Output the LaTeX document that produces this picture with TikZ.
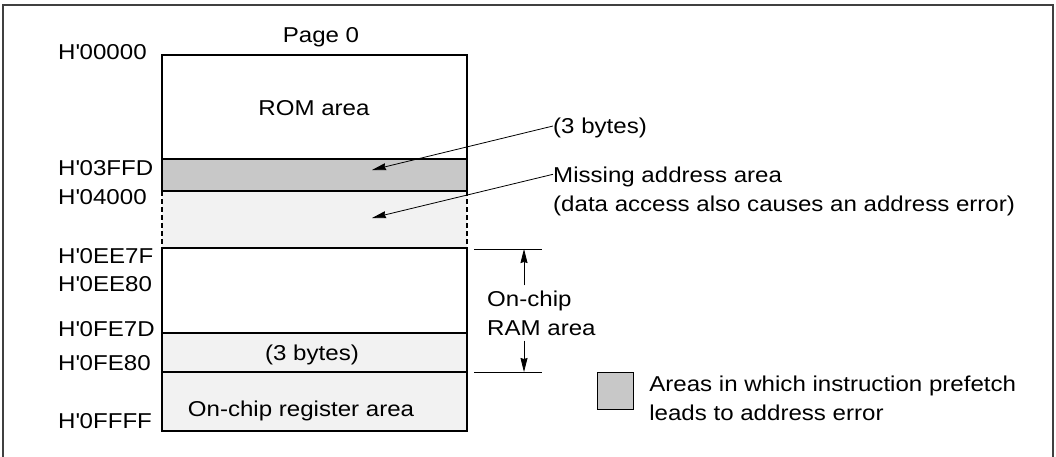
\documentclass[tikz,border=0pt]{standalone}
\usepackage{fontspec}
\setmainfont{Liberation Sans}[FakeStretch=1.12]
\usetikzlibrary{arrows.meta,positioning}
\definecolor{prefetchgray}{RGB}{200,200,200}
\definecolor{areafill}{RGB}{242,242,242}
\tikzset{
  lbl/.style={inner sep=0pt,text height=15.5pt,text depth=0pt},
  note/.style={inner sep=0pt,align=left},
  memline/.style={line width=1.3pt},
  lead/.style={->,line width=0.8pt},
}
\begin{document}
\begin{tikzpicture}[x=1pt,y=-1pt,>={Stealth[length=14pt,width=7pt,inset=1pt]},font=\fontsize{21.5}{29}\selectfont]
  \useasboundingbox (0,0) rectangle (1056,456);
  \draw[line width=1.5pt,black!75] (3,5) rectangle (1053,470);
  % memory map
  \fill[prefetchgray] (162,159) rectangle (467,191);
  \fill[areafill] (162,191) rectangle (467,248);
  \fill[areafill] (162,333) rectangle (467,431);
  \draw[memline] (162,191)--(162,55)--(467,55)--(467,191);
  \draw[memline] (162,248) rectangle (467,431);
  \foreach \y in {159,191,333,372}
    \draw[memline] (162,\y)--(467,\y);
  \draw[memline,dash pattern=on 5pt off 3pt] (162,191)--(162,248) (467,191)--(467,248);
  \foreach \t/\y [count=\i] in {H\textquotesingle00000/52,H\textquotesingle03FFD/168,
      H\textquotesingle04000/197,H\textquotesingle0EE7F/256,H\textquotesingle0EE80/284,
      H\textquotesingle0FE7D/329,H\textquotesingle0FE80/363,H\textquotesingle0FFFF/421}
    \node[lbl,anchor=west] (adr\i) at (58,\y) {\t};
  \node[lbl] (page) at (321,35) {Page 0};
  \node[lbl] (rom) at (314,108) {ROM area};
  \node[lbl] (bytesB) at (312,353) {(3 bytes)};
  \node[lbl] (reg) at (301,409) {On-chip register area};
  % leaders
  \node[lbl,anchor=west] (bytesA) at (553,126) {(3 bytes)};
  \node[note,anchor=west] (miss) at (553,191) {Missing address area\\(data access also causes an address error)};
  \coordinate (gaptip) at (372,170);
  \coordinate (misstip) at (372,218);
  \draw[lead] (bytesA.west) -- (gaptip);
  \draw[lead] ([yshift=-8pt]miss.north west) -- (misstip);
  % on-chip RAM
  \coordinate (ramtop) at (524,249);
  \coordinate (rambot) at (524,372);
  \draw[line width=0.8pt] (ramtop) ++(-50,0) -- ++(68,0);
  \draw[line width=0.8pt] (rambot) ++(-50,0) -- ++(68,0);
  \node[note,anchor=west,inner ysep=5pt] (ram) at (487,313) {On-chip\\RAM area};
  \draw[lead] (ram.north -| ramtop) -- (ramtop);
  \draw[lead] (ram.south -| ramtop) -- (rambot);
  % legend
  \node[draw,fill=prefetchgray,memline,minimum width=36pt,minimum height=37pt,inner sep=0pt] (key) at (615.5,391) {};
  \node[note,right=15pt of key,yshift=-7pt] (keytxt) {Areas in which instruction prefetch\\leads to address error};
\end{tikzpicture}
\end{document}
